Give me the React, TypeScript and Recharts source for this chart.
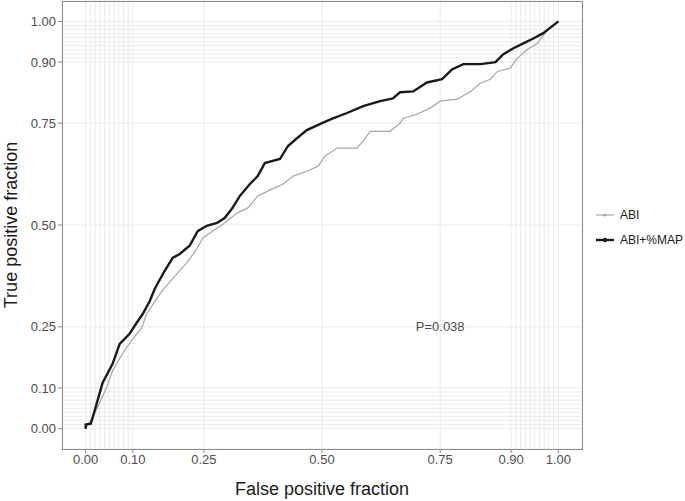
import { LineChart, Line, XAxis, YAxis, CartesianGrid, ReferenceLine, ReferenceDot } from 'recharts';

// ROC points: [false positive fraction, true positive fraction]
const abiFpr = [0, 0.019, 0.044, 0.057, 0.078, 0.097, 0.119, 0.129, 0.14, 0.157, 0.174, 0.193, 0.214, 0.235, 0.248, 0.269, 0.29, 0.32, 0.343, 0.364, 0.394, 0.417, 0.439, 0.468, 0.492, 0.506, 0.532, 0.574, 0.587, 0.602, 0.644, 0.665, 0.672, 0.701, 0.729, 0.75, 0.786, 0.814, 0.835, 0.856, 0.871, 0.898, 0.913, 0.934, 0.956, 0.977, 1];
const abiTpr = [0, 0.037, 0.1, 0.142, 0.184, 0.216, 0.248, 0.282, 0.301, 0.331, 0.355, 0.38, 0.407, 0.441, 0.468, 0.485, 0.502, 0.529, 0.542, 0.571, 0.588, 0.6, 0.62, 0.632, 0.645, 0.669, 0.689, 0.689, 0.706, 0.73, 0.73, 0.75, 0.762, 0.772, 0.787, 0.804, 0.809, 0.828, 0.848, 0.858, 0.877, 0.885, 0.909, 0.931, 0.946, 0.98, 1];

const mapFpr = [0, 0, 0.011, 0.019, 0.036, 0.057, 0.072, 0.093, 0.108, 0.121, 0.136, 0.146, 0.167, 0.184, 0.199, 0.22, 0.237, 0.256, 0.278, 0.294, 0.309, 0.326, 0.347, 0.364, 0.379, 0.411, 0.428, 0.447, 0.468, 0.5, 0.523, 0.553, 0.587, 0.623, 0.65, 0.665, 0.693, 0.722, 0.754, 0.775, 0.799, 0.835, 0.867, 0.883, 0.905, 0.926, 0.947, 0.968, 1];
const mapTpr = [0, 0.01, 0.012, 0.044, 0.113, 0.159, 0.208, 0.233, 0.26, 0.282, 0.314, 0.343, 0.387, 0.419, 0.429, 0.449, 0.485, 0.498, 0.505, 0.517, 0.539, 0.571, 0.6, 0.62, 0.652, 0.662, 0.694, 0.713, 0.733, 0.75, 0.762, 0.775, 0.792, 0.804, 0.811, 0.826, 0.828, 0.85, 0.858, 0.882, 0.895, 0.895, 0.9, 0.919, 0.934, 0.946, 0.958, 0.971, 1];

const ticks = [0, 0.1, 0.25, 0.5, 0.75, 0.9, 1];
const minorGrid = [0.01, 0.02, 0.03, 0.04, 0.05, 0.06, 0.07, 0.08, 0.09, 0.91, 0.92, 0.93, 0.94, 0.95, 0.96, 0.97, 0.98, 0.99];

const abiData = abiFpr.map((x, i) => ({ fpr: x, tpr: abiTpr[i] }));
const mapData = mapFpr.map((x, i) => ({ fpr: x, tpr: mapTpr[i] }));

const FONT = 'Liberation Sans, Arial, sans-serif';
const GRID = '#ebebeb';

function RocLegend() {
  const items = [
    { label: 'ABI', color: '#a6a6a6', w: 1.2, r: 1.5 },
    { label: 'ABI+%MAP', color: '#1a1a1a', w: 2.4, r: 2.2 },
  ];
  return (
    <div style={{ fontFamily: FONT, fontSize: 12, color: '#1a1a1a', whiteSpace: 'nowrap' }}>
      {items.map((it) => (
        <div key={it.label} style={{ display: 'flex', alignItems: 'center', height: 25 }}>
          <svg width={20} height={10} style={{ marginRight: 5 }}>
            <line x1={1} y1={5} x2={19} y2={5} stroke={it.color} strokeWidth={it.w} />
            <circle cx={10} cy={5} r={it.r} fill={it.color} />
          </svg>
          <span>{it.label}</span>
        </div>
      ))}
    </div>
  );
}

export default function App() {
  return (
    <div style={{ position: 'absolute', left: 0, top: 0, width: 685, height: 501, background: 'white', fontFamily: FONT }}>
      <LineChart width={685} height={501} margin={{ top: 1, right: 103, bottom: 0, left: 0 }}>
        <CartesianGrid stroke={GRID} strokeWidth={1} />
        {minorGrid.map((v) => (
          <ReferenceLine key={'vx' + v} x={v} stroke={GRID} strokeWidth={1} />
        ))}
        {minorGrid.map((v) => (
          <ReferenceLine key={'hy' + v} y={v} stroke={GRID} strokeWidth={1} />
        ))}
        <XAxis
          dataKey="fpr"
          type="number"
          domain={[-0.05, 1.05]}
          ticks={ticks}
          tickFormatter={(v: number) => v.toFixed(2)}
          height={52}
          axisLine={false}
          tickLine={{ stroke: '#888' }}
          tickSize={4}
          tick={{ fill: '#4d4d4d', fontSize: 13, fontFamily: FONT }}
          label={{ value: 'False positive fraction', position: 'insideBottom', offset: 6, fill: '#1a1a1a', fontSize: 18, fontFamily: FONT }}
          allowDuplicatedCategory={false}
        />
        <YAxis
          dataKey="tpr"
          type="number"
          domain={[-0.05, 1.05]}
          ticks={ticks}
          tickFormatter={(v: number) => v.toFixed(2)}
          width={62}
          axisLine={false}
          tickLine={{ stroke: '#888' }}
          tickSize={4}
          tick={{ fill: '#4d4d4d', fontSize: 13, fontFamily: FONT }}
          label={{ value: 'True positive fraction', angle: -90, position: 'insideLeft', offset: 11, style: { textAnchor: 'middle' }, fill: '#1a1a1a', fontSize: 18, fontFamily: FONT }}
        />
        <Line data={abiData} dataKey="tpr" type="linear" stroke="#a6a6a6" strokeWidth={1.2} dot={false} isAnimationActive={false} />
        <Line data={mapData} dataKey="tpr" type="linear" stroke="#1a1a1a" strokeWidth={2.4} dot={false} isAnimationActive={false} />
        <ReferenceDot
          x={0.75}
          y={0.25}
          r={0}
          fill="none"
          stroke="none"
          label={{ value: 'P=0.038', position: 'center', fill: '#4d4d4d', fontSize: 13, fontFamily: FONT }}
        />
      </LineChart>
      <div style={{ position: 'absolute', left: 62, top: 1, width: 519, height: 447, border: '1px solid #8a8a8a', pointerEvents: 'none' }} />
      <div style={{ position: 'absolute', left: 595, top: 202 }}>
        <RocLegend />
      </div>
    </div>
  );
}
